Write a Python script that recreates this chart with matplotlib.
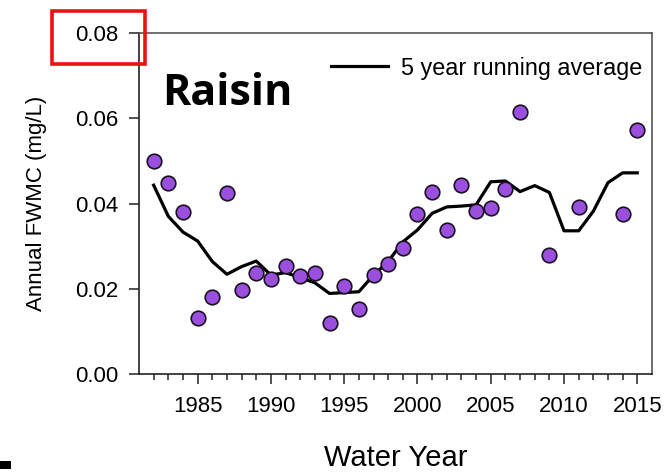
import numpy as np
import matplotlib
matplotlib.use("Agg")
import matplotlib.pyplot as plt
from matplotlib.patches import Rectangle

plt.rcParams['font.family'] = ['Liberation Sans', 'DejaVu Sans']

# annual flow-weighted mean concentration, Raisin River
years = [1982, 1983, 1984, 1985, 1986, 1987, 1988, 1989, 1990, 1991,
         1992, 1993, 1994, 1995, 1996, 1997, 1998, 1999, 2000, 2001,
         2002, 2003, 2004, 2005, 2006, 2007, 2009, 2011, 2014, 2015]
fwmc = [0.0500, 0.0448, 0.0380, 0.0131, 0.0181, 0.0425, 0.0197, 0.0237,
        0.0223, 0.0253, 0.0230, 0.0237, 0.0120, 0.0206, 0.0153, 0.0232,
        0.0258, 0.0296, 0.0376, 0.0427, 0.0339, 0.0443, 0.0382, 0.0389,
        0.0433, 0.0614, 0.0279, 0.0391, 0.0375, 0.0572]

# 5 year running average
avg_years = list(range(1982, 2016))
avg_vals = [0.0443, 0.0370, 0.0333, 0.0312, 0.0264, 0.0234, 0.0252, 0.0265,
            0.0232, 0.0238, 0.0226, 0.0214, 0.0189, 0.0191, 0.0193, 0.0232,
            0.0264, 0.0310, 0.0338, 0.0377, 0.0392, 0.0394, 0.0397, 0.0451,
            0.0453, 0.0428, 0.0442, 0.0426, 0.0336, 0.0336, 0.0382, 0.0449,
            0.0472, 0.0472]

fig = plt.figure(figsize=(6.68, 4.72), dpi=100)
ax = fig.add_axes([0.2081, 0.2076, 0.7679, 0.7224])

ax.plot(avg_years, avg_vals, color='black', lw=2.3, label='5 year running average', zorder=2)
ax.scatter(years, fwmc, s=110, color='#9b4fde', edgecolor='#1a1020', linewidth=1.2, zorder=3)

ax.set_xlim(1981, 2016)
ax.set_ylim(0, 0.08)
ax.set_xticks(range(1985, 2016, 5))
ax.set_xticks(range(1982, 2016), minor=True)
ax.set_yticks([0, 0.02, 0.04, 0.06, 0.08])
ax.set_yticklabels(['0.00', '0.02', '0.04', '0.06', '0.08'])
ax.tick_params(axis='both', which='major', direction='out', length=7, width=1.1,
               labelsize=16, color='#222222')
ax.tick_params(axis='x', which='minor', direction='out', length=4.5, width=1.1, color='#222222')
ax.tick_params(axis='y', pad=8)
ax.tick_params(axis='x', pad=9)

for side in ['left', 'bottom']:
    ax.spines[side].set_color('#222222')
    ax.spines[side].set_linewidth(1.2)
for side in ['top', 'right']:
    ax.spines[side].set_color('#555555')
    ax.spines[side].set_linewidth(1.2)

ax.set_ylabel('Annual FWMC (mg/L)', fontsize=16, labelpad=20)
ax.set_xlabel('Water Year', fontsize=21, labelpad=19)

ax.legend(loc='center right', bbox_to_anchor=(1 - 10 / 513, 0.897), frameon=False,
          fontsize=16.8, handlelength=2.45, handletextpad=0.55, borderpad=0,
          borderaxespad=0)

ax.text(0.045, 0.789, 'Raisin', transform=ax.transAxes, fontsize=31,
        fontweight='bold', family='Open Sans', va='baseline')

# red box around the top tick label
W, H = 668, 472
fig.patches.append(Rectangle((52 / W, 1 - 64 / H), 93 / W, 53 / H, transform=fig.transFigure,
                             fill=False, edgecolor='#ee1111', lw=2.6))
fig.patches.append(Rectangle((0, 1 - 469 / H), 11 / W, 8 / H, transform=fig.transFigure,
                             facecolor='black', edgecolor='none'))

fig.savefig('out.png', dpi=100)
